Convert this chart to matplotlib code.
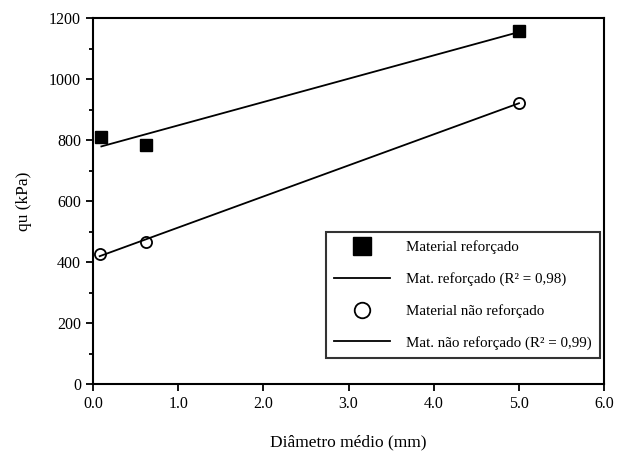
import numpy as np
import matplotlib.pyplot as plt
from matplotlib.ticker import MultipleLocator

# dados
diam_ref = [0.10, 0.62, 5.00]
qu_ref = [810, 785, 1158]
diam_nref = [0.08, 0.62, 5.00]
qu_nref = [428, 465, 922]

plt.rcParams['font.family'] = ['Liberation Serif', 'DejaVu Serif']

fig = plt.figure(figsize=(6.36, 4.53), dpi=100)
ax = fig.add_axes([0.146, 0.152, 0.804, 0.808])

# regressões lineares
p_ref = np.polyfit(diam_ref, qu_ref, 1)
p_nref = np.polyfit(diam_nref, qu_nref, 1)
x_ref = np.array([min(diam_ref), max(diam_ref)])
x_nref = np.array([min(diam_nref), max(diam_nref)])

ax.plot(diam_ref, qu_ref, 's', color='black', markersize=9, linestyle='none',
        label='Material reforçado')
ax.plot(x_ref, np.polyval(p_ref, x_ref), '-', color='black', lw=1.3,
        label='Mat. reforçado (R² = 0,98)')
ax.plot(diam_nref, qu_nref, 'o', color='black', markerfacecolor='white',
        markersize=8, markeredgewidth=1.3, linestyle='none',
        label='Material não reforçado')
ax.plot(x_nref, np.polyval(p_nref, x_nref), '-', color='black', lw=1.3,
        label='Mat. não reforçado (R² = 0,99)')

ax.set_xlim(0, 6)
ax.set_ylim(0, 1200)
ax.xaxis.set_major_locator(MultipleLocator(1.0))
ax.yaxis.set_major_locator(MultipleLocator(200))
ax.yaxis.set_minor_locator(MultipleLocator(100))
ax.set_xticklabels([f'{v:.1f}' for v in ax.get_xticks()])
ax.tick_params(which='both', direction='out', width=1.3, labelsize=11.5)
ax.tick_params(which='major', length=5)
ax.tick_params(which='minor', length=3)
for s in ax.spines.values():
    s.set_linewidth(1.5)

ax.set_xlabel('Diâmetro médio (mm)', fontsize=12.5, labelpad=16)
ax.set_ylabel('qu (kPa)', fontsize=12.5, labelpad=12)

leg = ax.legend(loc='lower right', bbox_to_anchor=(0.992, 0.071), fontsize=10.8,
                frameon=True, fancybox=False, edgecolor='black',
                labelspacing=1.2, handlelength=3.7, borderpad=0.55,
                handletextpad=1.1, borderaxespad=0, numpoints=1,
                markerscale=1.4)
leg.get_frame().set_linewidth(1.5)

fig.savefig('out.png', dpi=100)
